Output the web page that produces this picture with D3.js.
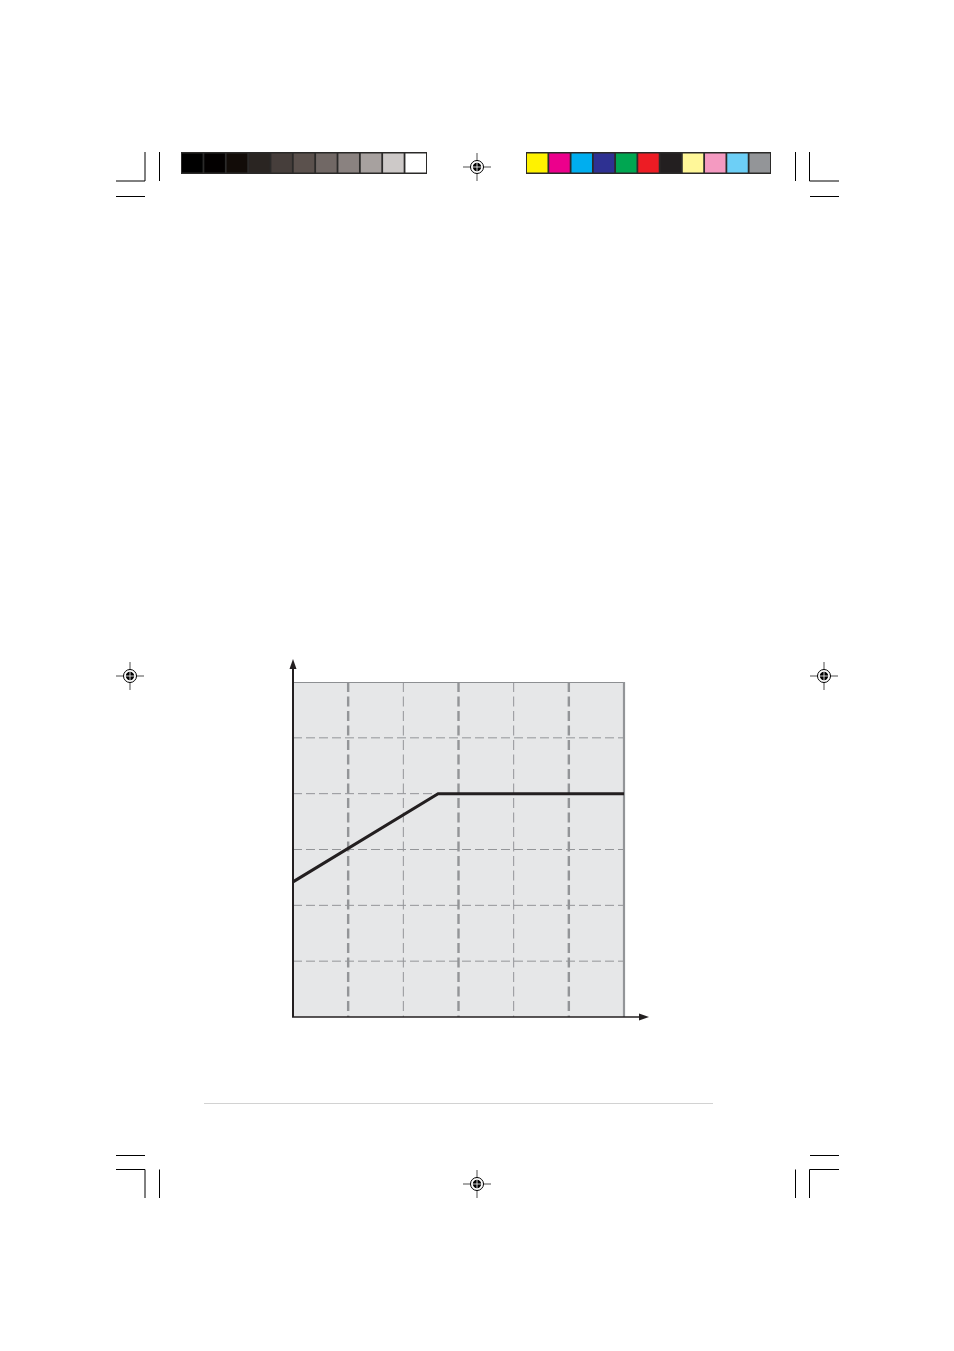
<!DOCTYPE html>
<html>
<head>
	<meta charset="utf-8">
	<title>Chart</title>
	<script src="https://cdn.jsdelivr.net/npm/d3@7"></script>
	<style>
		body { margin: 0; background: #fff; }
	</style>
</head>
<body>
	<script type="text/javascript">
		var width = 954
		var height = 1351

		// the curve (x and y in grid units)
		var lineX = [0, 2.63, 6]
		var lineY = [2.42, 4, 4]

		// grid
		var xTicks = [1, 2, 3, 4, 5]
		var xMajor = [1, 3, 5]
		var yTicks = [1, 2, 3, 4, 5]

		// printer colour bars
		var grays = ["#000000", "#030000", "#120c08", "#2a2522", "#463e3b", "#5b514d", "#716865", "#8a8280", "#a7a19f", "#cdc9c8", "#ffffff"]
		var colours = ["#fff200", "#ec008c", "#00aeef", "#2e3192", "#00a651", "#ed1c24", "#231f20", "#fff799", "#f49ac1", "#6dcff6", "#939598"]

		var svg = d3.select("body").append("svg")
			.attr("width", width)
			.attr("height", height)

		// ---- page furniture ----
		function strip(x0, x1, cols) {
			svg.append("rect")
				.attr("x", x0).attr("y", 152)
				.attr("width", x1 - x0).attr("height", 22)
				.attr("fill", "#2b2a29")
			var band = d3.scaleBand().domain(d3.range(cols.length)).range([x0 + 1, x1 - 1]).paddingInner(0.08)
			svg.selectAll(null).data(cols).enter().append("rect")
				.attr("x", (d, i) => band(i))
				.attr("y", 153.5)
				.attr("width", band.bandwidth())
				.attr("height", 19)
				.attr("fill", d => d)
		}
		strip(181, 427, grays)
		strip(526, 771, colours)

		var cropLines = [
			[145, 152, 145, 181], [159.5, 152, 159.5, 181], [116, 181, 145, 181], [116, 196.5, 145, 196.5],
			[795.5, 152, 795.5, 181], [809.5, 152, 809.5, 181], [809.5, 181, 839, 181], [810, 196.5, 839, 196.5],
			[116, 1155.5, 145, 1155.5], [116, 1169.5, 145, 1169.5], [145, 1169.5, 145, 1198], [159.5, 1169.5, 159.5, 1198],
			[810, 1155.5, 839, 1155.5], [809.5, 1169.5, 839, 1169.5], [809.5, 1169.5, 809.5, 1198], [795.5, 1169.5, 795.5, 1198]
		]
		svg.selectAll(null).data(cropLines).enter().append("line")
			.attr("x1", d => d[0]).attr("y1", d => d[1])
			.attr("x2", d => d[2]).attr("y2", d => d[3])
			.attr("stroke", "#000").attr("stroke-width", 1)

		var regMarks = [[477, 167], [130, 676], [824, 676], [477, 1184]]
		var reg = svg.selectAll(null).data(regMarks).enter().append("g")
			.attr("transform", d => "translate(" + d[0] + "," + d[1] + ")")
		reg.append("line").attr("x1", -14).attr("x2", 14).attr("stroke", "#000").attr("stroke-width", 0.7)
		reg.append("line").attr("y1", -14).attr("y2", 14).attr("stroke", "#000").attr("stroke-width", 0.7)
		reg.append("circle").attr("r", 6.5).attr("fill", "#fff").attr("stroke", "#000").attr("stroke-width", 1)
		reg.append("circle").attr("r", 4.2).attr("fill", "#000")
		reg.append("line").attr("x1", -4.5).attr("x2", 4.5).attr("stroke", "#fff").attr("stroke-width", 0.8)
		reg.append("line").attr("y1", -4.5).attr("y2", 4.5).attr("stroke", "#fff").attr("stroke-width", 0.8)

		svg.append("line")
			.attr("x1", 204).attr("x2", 713)
			.attr("y1", 1103.5).attr("y2", 1103.5)
			.attr("stroke", "#d2d2d2").attr("stroke-width", 1)

		// ---- chart ----
		var x = d3.scaleLinear().domain([0, 6]).range([293, 624])
		var y = d3.scaleLinear().domain([0, 6]).range([1017, 682])

		svg.append("rect")
			.attr("x", x(0)).attr("y", y(6))
			.attr("width", x(6) - x(0)).attr("height", y(0) - y(6))
			.attr("fill", "#e6e7e8")

		svg.selectAll(".hgrid").data(yTicks).enter().append("line")
			.attr("class", "hgrid")
			.attr("x1", x(0)).attr("x2", x(6))
			.attr("y1", d => y(d)).attr("y2", d => y(d))
			.attr("stroke", "#939598").attr("stroke-width", 1)
			.attr("stroke-dasharray", "9,4")

		svg.selectAll(".vgrid").data(xTicks).enter().append("line")
			.attr("class", "vgrid")
			.attr("x1", d => x(d)).attr("x2", d => x(d))
			.attr("y1", y(6)).attr("y2", y(0))
			.attr("stroke", "#939598")
			.attr("stroke-width", d => xMajor.includes(d) ? 2.4 : 1)
			.attr("stroke-dasharray", "10,4.5")

		// frame: top and right
		svg.append("line")
			.attr("x1", x(0)).attr("x2", x(6))
			.attr("y1", y(6) + 0.5).attr("y2", y(6) + 0.5)
			.attr("stroke", "#8d8f92").attr("stroke-width", 1)
		svg.append("line")
			.attr("x1", x(6)).attr("x2", x(6))
			.attr("y1", y(6)).attr("y2", y(0))
			.attr("stroke", "#939598").attr("stroke-width", 2.2)

		// curve
		var pts = lineX.map((v, i) => [v, lineY[i]])
		svg.append("path")
			.datum(pts)
			.attr("d", d3.line().x(d => x(d[0])).y(d => y(d[1])))
			.attr("fill", "none")
			.attr("stroke", "#231f20")
			.attr("stroke-width", 3)

		// axes with arrows
		svg.append("line")
			.attr("x1", x(0)).attr("x2", x(0))
			.attr("y1", y(0)).attr("y2", 666)
			.attr("stroke", "#231f20").attr("stroke-width", 2)
		svg.append("line")
			.attr("x1", x(0) - 1).attr("x2", 642)
			.attr("y1", y(0)).attr("y2", y(0))
			.attr("stroke", "#231f20").attr("stroke-width", 1.6)
		svg.append("path")
			.attr("d", "M" + x(0) + ",659 L" + (x(0) + 3.5) + ",669 L" + (x(0) - 3.5) + ",669 Z")
			.attr("fill", "#231f20")
		svg.append("path")
			.attr("d", "M649," + y(0) + " L639," + (y(0) - 3.5) + " L639," + (y(0) + 3.5) + " Z")
			.attr("fill", "#231f20")
	</script>
</body>
</html>
